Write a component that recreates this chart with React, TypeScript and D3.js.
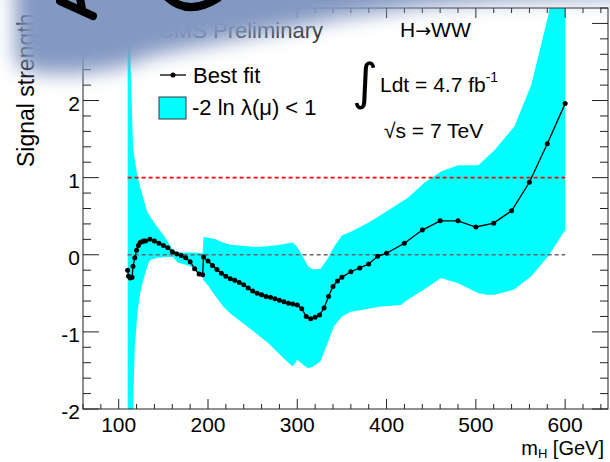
import React from "react";
import * as d3 from "d3";

// best fit signal strength vs mH
const fitMass = [110, 111, 113, 115, 116, 118, 120, 122, 124, 126, 128, 130, 135, 140, 145, 150, 155, 160, 165, 170, 175, 180, 185, 190, 194,
  195, 200, 205, 210, 215, 220, 225, 230, 235, 240, 245, 250, 255, 260, 265, 270, 275, 280, 285, 290, 295, 300,
  305, 310, 315, 320, 325, 330, 335, 340, 345, 350, 360, 370, 380, 390, 400, 420, 440, 460, 480, 500, 520, 540, 560, 580, 600];
const fitMu = [-0.2, -0.28, -0.3, -0.29, -0.15, -0.04, 0.06, 0.12, 0.16, 0.17, 0.18, 0.18, 0.2, 0.18, 0.15, 0.12, 0.09, 0.04, 0.01, -0.01, -0.04, -0.09, -0.18, -0.25, -0.26,
  -0.03, -0.08, -0.14, -0.19, -0.24, -0.28, -0.31, -0.33, -0.36, -0.39, -0.43, -0.47, -0.5, -0.52, -0.54, -0.55, -0.57, -0.59, -0.61, -0.63, -0.64, -0.65,
  -0.7, -0.8, -0.83, -0.81, -0.78, -0.69, -0.54, -0.41, -0.34, -0.29, -0.22, -0.17, -0.12, -0.02, 0.02, 0.15, 0.32, 0.44, 0.44, 0.36, 0.41, 0.57, 0.94, 1.44, 1.96];

// -2 ln lambda < 1 band
const bandMass = [110, 113, 116, 118, 121, 124, 127, 132, 135, 143, 146, 152, 161, 166, 172, 180, 186, 191, 194, 195, 200, 206, 217, 225, 235, 244, 255, 267, 281, 290, 295, 300,
  306, 312, 318, 326, 334, 341, 350, 360, 380, 394, 416, 424, 442, 461, 480, 503, 512, 521, 543, 562, 581, 600];
const bandHigh = [4.0, 2.6, 1.4, 1.23, 1.02, 0.88, 0.76, 0.55, 0.5, 0.36, 0.32, 0.22, 0.06, 0.04, 0.03, 0.03, 0.03, 0.02, 0.02, 0.23, 0.22, 0.21, 0.16, 0.13, 0.12, 0.11, 0.1, 0.11, 0.13, 0.15, 0.16, 0.1,
  -0.02, -0.15, -0.19, -0.18, -0.05, 0.1, 0.25, 0.3, 0.42, 0.52, 0.68, 0.74, 0.93, 1.08, 1.16, 1.16, 1.26, 1.36, 1.66, 2.2, 3.1, 4.5];
const bandLow = [-3.0, -2.3, -2.0, -1.2, -0.75, -0.5, -0.35, -0.15, -0.07, -0.04, -0.04, -0.03, -0.03, -0.1, -0.12, -0.15, -0.19, -0.24, -0.3, -0.33, -0.4, -0.5, -0.67, -0.76, -0.85, -0.93, -1.03, -1.14, -1.3, -1.4, -1.45, -1.36,
  -1.42, -1.47, -1.45, -1.38, -1.14, -0.93, -0.8, -0.74, -0.7, -0.67, -0.65, -0.58, -0.45, -0.3, -0.37, -0.5, -0.52, -0.52, -0.45, -0.28, -0.02, 0.32];

const xTicks = [100, 200, 300, 400, 500, 600];
const yTicks = [-2, -1, 0, 1, 2, 3];

const font = "'Liberation Sans', Arial, sans-serif";

export default function App() {
  const left = 83, right = 608, top = 8, bottom = 409;
  const x = d3.scaleLinear().domain([60, 648]).range([left, right]);
  const y = d3.scaleLinear().domain([-2, 3.2]).range([bottom, top]);

  const area = d3.area<number>()
    .x((d, i) => x(bandMass[i]))
    .y0((d, i) => y(bandLow[i]))
    .y1((d, i) => y(bandHigh[i]));
  const line = d3.line<number>()
    .x((d, i) => x(fitMass[i]))
    .y((d) => y(d));

  const xMinor = d3.range(60, 649, 20);
  const yMinor = d3.range(-2, 3.21, 0.2);

  return (
    <svg width={610} height={462} style={{ position: "absolute", left: 0, top: 0, background: "#fff" }}
      fontFamily={font}>
      <defs>
        <clipPath id="frame">
          <rect x={left} y={top} width={right - left} height={bottom - top} />
        </clipPath>
        <filter id="haze" x="-20%" y="-50%" width="140%" height="200%">
          <feGaussianBlur stdDeviation="10" />
        </filter>
      </defs>

      <g clipPath="url(#frame)">
        <path d={area(bandMass) || ""} fill="#00ffff" />
        <line x1={x(110)} x2={x(600)} y1={y(1)} y2={y(1)} stroke="#ff0000" strokeWidth={1.6} strokeDasharray="4,3" />
        <line x1={x(110)} x2={x(600)} y1={y(0)} y2={y(0)} stroke="#666" strokeWidth={1.6} strokeDasharray="4,3" />
        <path d={line(fitMu) || ""} fill="none" stroke="#000" strokeWidth={1.3} />
        {fitMu.map((d, i) => (
          <circle key={i} cx={x(fitMass[i])} cy={y(d)} r={2.5} fill="#000" />
        ))}
      </g>

      {/* frame and ticks */}
      <rect x={left} y={top} width={right - left} height={bottom - top} fill="none" stroke="#222" strokeWidth={1} />
      {xMinor.map((v) => {
        const major = v % 100 === 0;
        const len = major ? 10 : 5;
        return (
          <g key={"x" + v} stroke="#222">
            <line x1={x(v)} x2={x(v)} y1={bottom} y2={bottom - len} />
            <line x1={x(v)} x2={x(v)} y1={top} y2={top + len} />
          </g>
        );
      })}
      {yMinor.map((v) => {
        const major = Math.abs(v - Math.round(v)) < 1e-6;
        const len = major ? 16 : 8;
        return (
          <g key={"y" + v.toFixed(1)} stroke="#222">
            <line x1={left} x2={left + len} y1={y(v)} y2={y(v)} />
            <line x1={right} x2={right - len} y1={y(v)} y2={y(v)} />
          </g>
        );
      })}
      {xTicks.map((v) => (
        <text key={v} x={x(v)} y={432} textAnchor="middle" fontSize={21}>{v}</text>
      ))}
      {yTicks.map((v) => (
        <text key={v} x={80} y={y(v) + 10} textAnchor="end" fontSize={21}>{v}</text>
      ))}

      {/* axis titles */}
      <text transform="translate(34,167) rotate(-90)" fontSize={23}>Signal strength</text>
      <text x={604} y={455} textAnchor="end" fontSize={20}>
        m<tspan fontSize={13} dy={3}>H</tspan><tspan dy={-3}> [GeV]</tspan>
      </text>

      {/* legend */}
      <line x1={160} x2={186} y1={75} y2={75} stroke="#000" strokeWidth={1.3} />
      <circle cx={173} cy={75} r={2.5} fill="#000" />
      <text x={193} y={83} fontSize={22}>Best fit</text>
      <rect x={159} y={97} width={27} height={22} fill="#00ffff" stroke="#333" />
      <text x={192} y={115} fontSize={22}>-2 ln λ(μ) &lt; 1</text>

      {/* labels */}
      <text x={323} y={38} textAnchor="end" fontSize={22} fill="#333">CMS Preliminary</text>
      <text x={400} y={37} fontSize={21}>H<tspan fontFamily="'DejaVu Sans'" fontSize={19}>→</tspan>WW</text>
      <text x={352} y={99} fontSize={50} fontFamily="'DejaVu Sans'">∫</text>
      <text x={380} y={92} fontSize={21}>Ldt = 4.7 fb<tspan fontSize={14} dy={-10}>-1</tspan></text>
      <text x={384} y={138} fontSize={21}>√s = 7 TeV</text>

      {/* blurred overlay from the slide */}
      <polygon
        points="14,-40 640,-40 640,-4 500,0 420,6 340,18 290,28 240,38 190,48 150,56 120,68 70,74 30,72 16,62"
        fill="#8499c2" filter="url(#haze)" />
      <g stroke="#000" strokeWidth={8} strokeLinecap="round" fill="none">
        <path d="M60,1 L93,16" />
        <path d="M80,-2 L82,9" />
        <path d="M164,-6 Q186,18 218,-2" />
      </g>
    </svg>
  );
}
